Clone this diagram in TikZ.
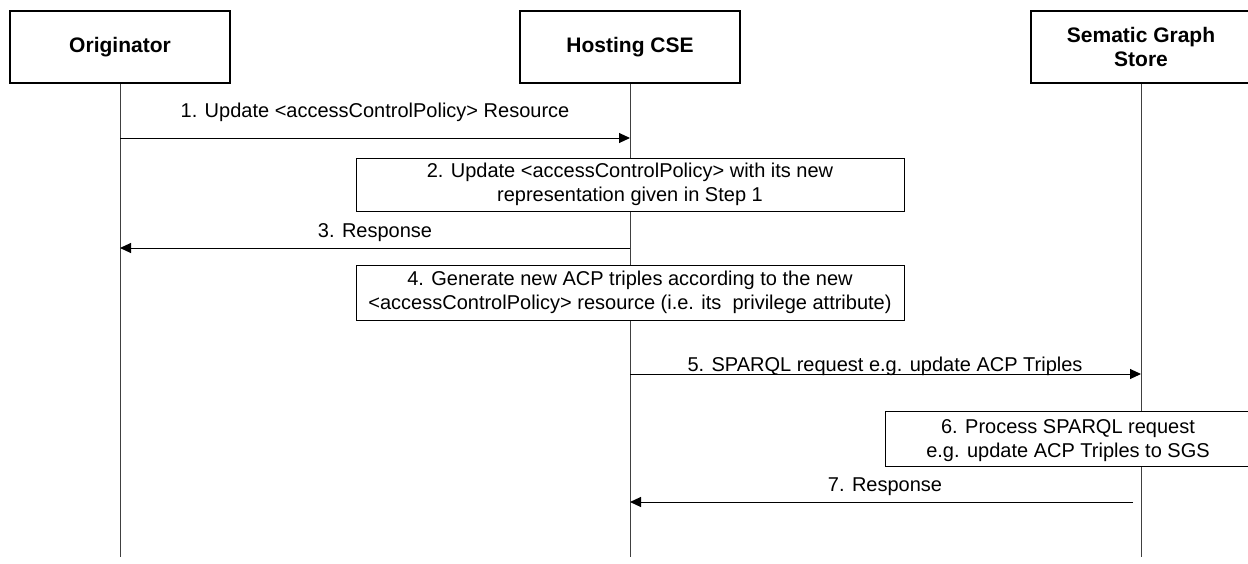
\documentclass[tikz,border=0pt]{standalone}
\usepackage{fontspec}
\setmainfont{Liberation Sans}
\usetikzlibrary{arrows.meta}
\begin{document}
\begin{tikzpicture}[x=1pt,y=-1pt,
  every node/.style={font=\fontsize{20}{24}\selectfont, inner sep=0pt},
  actor/.style={draw, line width=2pt, fill=white, minimum width=220pt, minimum height=72pt,
    font=\bfseries\fontsize{21}{24}\selectfont, align=center},
  procbox/.style={draw, line width=1pt, fill=white, align=center},
  lifeline/.style={draw=black!75, line width=1pt},
  msg/.style={line width=1pt, -{Triangle[length=11pt,width=10pt]}},
  lbl/.style={anchor=base}]
\useasboundingbox (0,0) rectangle (1248,563);
\fill[white] (0,0) rectangle (1248,563);

% actors
\node[actor] (orig) at (120,47) {Originator};
\node[actor] (host) at (630,47) {Hosting CSE};
\node[actor] (sgs) at (1141,47) {Sematic Graph\\Store};

% lifelines
\coordinate (origEnd) at (120,557);
\coordinate (hostEnd) at (630,557);
\coordinate (sgsEnd) at (1141,557);
\draw[lifeline] (orig.south) -- (origEnd);
\draw[lifeline] (host.south) -- (hostEnd);
\draw[lifeline] (sgs.south) -- (sgsEnd);

% message end points
\coordinate (o1) at (120,138);
\coordinate (h1) at (630,138);
\coordinate (h3) at (630,248);
\coordinate (o3) at (120,248);
\coordinate (h5) at (630,374);
\coordinate (s5) at (1141,374);
\coordinate (s7) at (1133,502);
\coordinate (h7) at (630,502);

% step 1
\draw[msg] (o1) -- (h1);
\node[lbl] (l1) at (375,117) {1. Update <accessControlPolicy> Resource};

% step 2
\node[procbox, minimum width=548pt, minimum height=53pt] (b2) at (630,184.5)
  {2. Update <accessControlPolicy> with its new\\representation given in Step 1};

% step 3
\draw[msg] (h3) -- (o3);
\node[lbl] (l3) at (375,237) {3. Response};

% step 4
\node[procbox, minimum width=548pt, minimum height=55pt] (b4) at (630,292.5)
  {4. Generate new ACP triples according to the new\\<accessControlPolicy> resource (i.e. its\ \ privilege attribute)};

% step 5
\draw[msg] (h5) -- (s5);
\node[lbl] (l5) at (885,371) {5. SPARQL request e.g. update ACP Triples};

% step 6
\node[procbox, minimum width=366pt, minimum height=55pt] (b6) at (1068,438.5) {};
\node[align=center] (t6) at (1068,441)
  {6. Process SPARQL request\\e.g. update ACP Triples to SGS};

% step 7
\draw[msg] (s7) -- (h7);
\node[lbl] (l7) at (885,491) {7. Response};
\end{tikzpicture}
\end{document}
